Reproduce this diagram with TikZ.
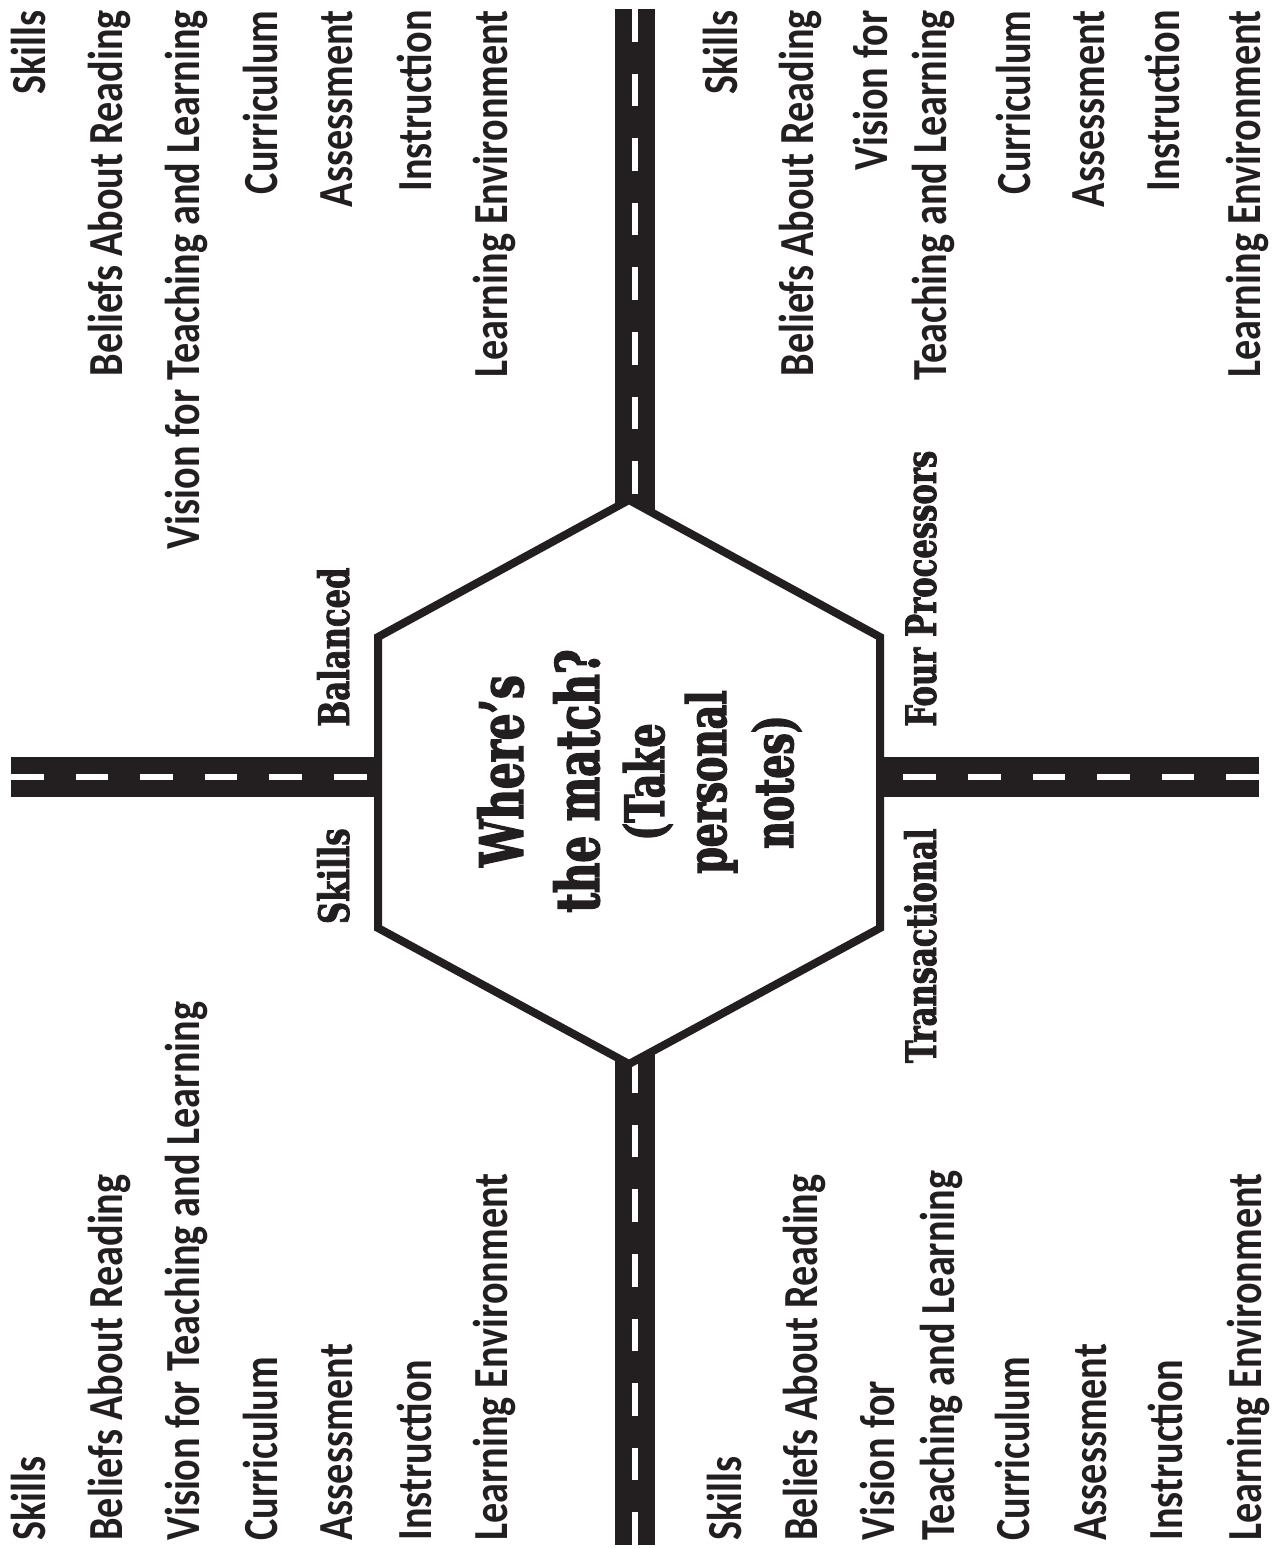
\documentclass[tikz,border=0pt]{standalone}
\usepackage{fontspec}
\newfontfamily\condsans[FakeStretch=0.82]{Carlito}
\newfontfamily\fatserif[FakeStretch=0.7,BoldFeatures={FakeBold=2.4}]{DejaVu Serif}
\newfontfamily\labserif[FakeStretch=0.73,BoldFeatures={FakeBold=1.8}]{DejaVu Serif}
\definecolor{roadblack}{RGB}{35,31,32}
\begin{document}
\begin{tikzpicture}[x=0.5pt,y=-0.5pt,
  roadbody/.style={fill=roadblack},
  laneline/.style={draw=white,line width=3pt,dash pattern=on 16.3pt off 16pt},
  hexborder/.style={draw=roadblack,line width=4pt,fill=white,line join=miter},
  outertxt/.style={font=\condsans\bfseries\fontsize{24.5}{29}\selectfont,rotate=90,inner sep=0pt,text=roadblack},
  toptxt/.style={outertxt,anchor=base east},
  bottxt/.style={outertxt,anchor=base west},
  labtxt/.style={font=\labserif\bfseries\fontsize{21}{25}\selectfont,rotate=90,inner sep=0pt,text=roadblack},
  bigtxt/.style={font=\fatserif\bfseries\fontsize{30}{36}\selectfont,rotate=90,inner sep=0pt,anchor=base,text=roadblack},
  smalltxt/.style={font=\fatserif\bfseries\fontsize{27}{32}\selectfont,rotate=90,inner sep=0pt,anchor=base,text=roadblack}]
\fill[white] (0,0) rectangle (1272,1548);
\useasboundingbox (0,0) rectangle (1272,1548);

% hexagon corners
\coordinate (hT) at (629,500);
\coordinate (hUR) at (880,637);
\coordinate (hLR) at (880,928);
\coordinate (hB) at (629,1064);
\coordinate (hLL) at (378,928);
\coordinate (hUL) at (378,637);

% road ends
\coordinate (rTop) at (635,9);
\coordinate (rTopIn) at (635,560);
\coordinate (rBot) at (635,1545);
\coordinate (rBotIn) at (635,1010);
\coordinate (rLeft) at (11,777);
\coordinate (rLeftIn) at (420,777);
\coordinate (rRight) at (1259,777);
\coordinate (rRightIn) at (840,777);

% roads
\fill[roadbody] (615,9) rectangle (655,560);
\draw[laneline] (rTop) -- (rTopIn);
\fill[roadbody] (615,1010) rectangle (655,1545);
\draw[laneline] (rBot) -- (rBotIn);
\fill[roadbody] (11,757) rectangle (420,797);
\draw[laneline] (rLeft) -- (rLeftIn);
\fill[roadbody] (840,757) rectangle (1259,797);
\draw[laneline] (rRight) -- (rRightIn);

% hexagon
\draw[hexborder] (hT) -- (hUR) -- (hLR) -- (hB) -- (hLL) -- (hUL) -- cycle;

% centre text
\node[bigtxt] (c1) at (523,771) {Where’s};
\node[bigtxt] (c2) at (599,781) {the match?};
\node[smalltxt] (c3) at (664,782) {(Take};
\node[smalltxt] (c4) at (726,782) {personal};
\node[smalltxt] (c5) at (793,782) {notes)};

% road labels
\node[labtxt,anchor=base west] (lBal) at (349,727) {Balanced};
\node[labtxt,anchor=base east] (lSki) at (349,828) {Skills};
\node[labtxt,anchor=base west] (lFour) at (936,727) {Four Processors};
\node[labtxt,anchor=base east] (lTra) at (936,828) {Transactional};

% top-left list
\node[toptxt] (tl1) at (46,10) {Skills};
\node[toptxt] (tl2) at (122,10) {Beliefs About Reading};
\node[toptxt] (tl3) at (199,10) {Vision for Teaching and Learning};
\node[toptxt] (tl4) at (277,10) {Curriculum};
\node[toptxt] (tl5) at (352,10) {Assessment};
\node[toptxt] (tl6) at (431,10) {Instruction};
\node[toptxt] (tl7) at (507,10) {Learning Environment};

% top-right list
\node[toptxt] (tr1) at (737,10) {Skills};
\node[toptxt] (tr2) at (813,10) {Beliefs About Reading};
\node[toptxt] (tr3) at (887,10) {Vision for};
\node[toptxt] (tr4) at (946,10) {Teaching and Learning};
\node[toptxt] (tr5) at (1030,10) {Curriculum};
\node[toptxt] (tr6) at (1104,10) {Assessment};
\node[toptxt] (tr7) at (1179,10) {Instruction};
\node[toptxt] (tr8) at (1260,10) {Learning Environment};

% bottom-left list
\node[bottxt] (bl1) at (46,1541) {Skills};
\node[bottxt] (bl2) at (122,1541) {Beliefs About Reading};
\node[bottxt] (bl3) at (199,1541) {Vision for Teaching and Learning};
\node[bottxt] (bl4) at (277,1541) {Curriculum};
\node[bottxt] (bl5) at (352,1541) {Assessment};
\node[bottxt] (bl6) at (431,1541) {Instruction};
\node[bottxt] (bl7) at (507,1541) {Learning Environment};

% bottom-right list
\node[bottxt] (br1) at (741,1541) {Skills};
\node[bottxt] (br2) at (817,1541) {Beliefs About Reading};
\node[bottxt] (br3) at (894,1541) {Vision for};
\node[bottxt] (br4) at (954,1541) {Teaching and Learning};
\node[bottxt] (br5) at (1029,1541) {Curriculum};
\node[bottxt] (br6) at (1106,1541) {Assessment};
\node[bottxt] (br7) at (1182,1541) {Instruction};
\node[bottxt] (br8) at (1261,1541) {Learning Environment};
\end{tikzpicture}
\end{document}
